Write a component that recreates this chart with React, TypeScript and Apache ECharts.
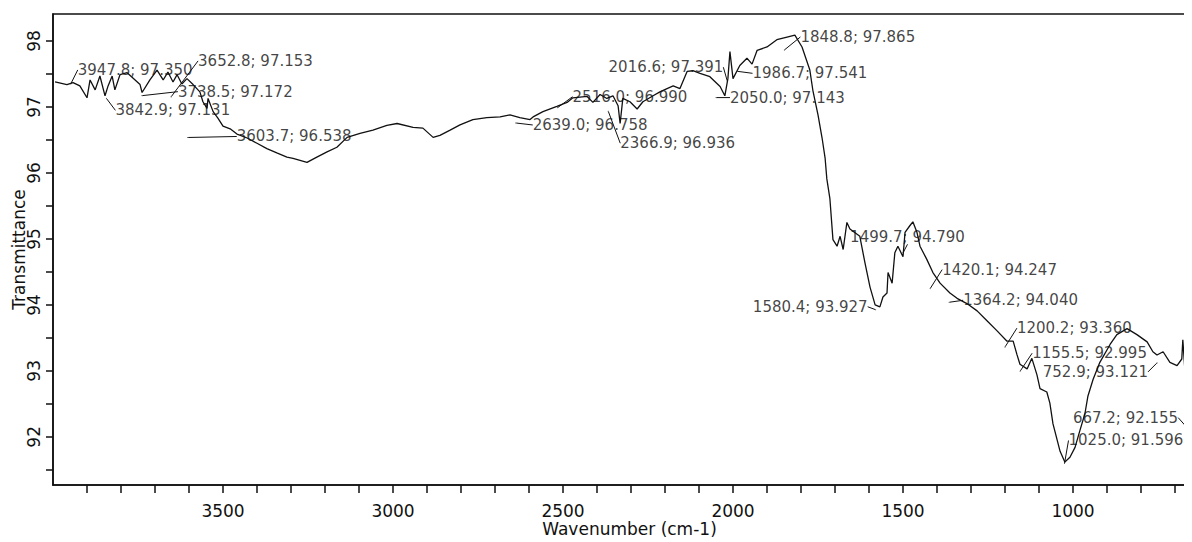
import React, { useEffect, useRef } from "react";
import * as echarts from "echarts";

// ---- Spectrum (wavenumber cm-1, transmittance %) ----
const wavenumbers = [
  3994, 3959, 3941, 3921, 3900, 3891, 3876, 3862, 3847, 3838, 3826, 3818, 3803, 3782, 3765, 3744, 3738, 3715,
  3694, 3676, 3662, 3647, 3635, 3621, 3606, 3588, 3568, 3559, 3547, 3544, 3529, 3515, 3500, 3479, 3459, 3429,
  3400, 3371, 3340, 3312, 3294, 3253, 3224, 3194, 3165, 3135, 3097, 3059, 3018, 2988, 2941, 2912, 2882, 2862,
  2832, 2803, 2765, 2724, 2685, 2656, 2627, 2597, 2588, 2559, 2518, 2488, 2471, 2429, 2412, 2391, 2371, 2353,
  2338, 2332, 2324, 2303, 2282, 2265, 2235, 2215, 2194, 2176, 2156, 2135, 2118, 2097, 2068, 2038, 2024, 2015,
  2009, 2000, 1980, 1959, 1944, 1929, 1900, 1871, 1841, 1818, 1797, 1774, 1765, 1750, 1738, 1729, 1724, 1715,
  1706, 1694, 1685, 1676, 1665, 1656, 1627, 1612, 1597, 1582, 1568, 1559, 1547, 1544, 1532, 1524, 1515, 1500,
  1494, 1480, 1471, 1459, 1450, 1430, 1412, 1391, 1362, 1341, 1312, 1282, 1253, 1224, 1194, 1176, 1165, 1156,
  1135, 1121, 1106, 1097, 1077, 1068, 1059, 1038, 1024, 1009, 994, 980, 965, 956, 941, 921, 891, 871,
  841, 812, 782, 765, 753, 735, 715, 694, 680, 677, 671, 665, 656,
];
const transmittance = [
  97.38, 97.34, 97.37, 97.32, 97.14, 97.41, 97.26, 97.47, 97.17, 97.32, 97.47, 97.26, 97.49, 97.52, 97.44, 97.34, 97.22, 97.41,
  97.56, 97.41, 97.53, 97.38, 97.49, 97.35, 97.43, 97.34, 97.23, 97.08, 96.98, 97.13, 96.93, 96.83, 96.71, 96.67, 96.59, 96.53,
  96.45, 96.37, 96.3, 96.24, 96.22, 96.16, 96.24, 96.32, 96.39, 96.54, 96.6, 96.65, 96.72, 96.75, 96.69, 96.68, 96.54, 96.57,
  96.65, 96.73, 96.81, 96.84, 96.85, 96.88, 96.84, 96.81, 96.85, 96.93, 97.01, 97.07, 97.14, 97.16, 97.07, 97.19, 97.13, 97.17,
  97.02, 96.75, 97.13, 97.08, 96.97, 97.08, 97.17, 97.23, 97.28, 97.32, 97.28, 97.54, 97.55, 97.51, 97.46, 97.31, 97.17, 97.43,
  97.84, 97.43, 97.63, 97.74, 97.65, 97.86, 97.91, 98.02, 98.06, 98.09, 97.91, 97.56, 97.25, 96.88, 96.53, 96.22, 95.91, 95.61,
  94.99, 94.89, 95.04, 94.84, 95.25, 95.15, 95.04, 94.64, 94.27, 94.0, 93.97, 94.12, 94.18, 94.49, 94.33, 94.79, 94.89, 94.73,
  95.1, 95.2, 95.26, 95.1, 94.89, 94.69, 94.49, 94.33, 94.18, 94.1, 94.02, 93.91, 93.76, 93.61, 93.45, 93.45, 93.25, 93.1,
  93.03, 93.19, 92.94, 92.73, 92.68, 92.51, 92.2, 91.78, 91.62, 91.69, 91.84, 92.09, 92.35, 92.62, 92.87, 93.13, 93.4, 93.55,
  93.64, 93.55, 93.44, 93.29, 93.24, 93.29, 93.13, 93.08, 93.18, 93.47, 93.02, 92.25, 93.05,
];

// ---- Peak picks ----
const peakWavenumbers = [
  3947.8, 3842.9, 3652.8, 3738.5, 3603.7, 2639.0, 2516.0, 2366.9, 2016.6, 2050.0, 1986.7,
  1848.8, 1499.7, 1580.4, 1420.1, 1364.2, 1200.2, 1155.5, 752.9, 667.2, 1025.0,
];
const peakTransmittance = [
  97.35, 97.131, 97.153, 97.172, 96.538, 96.758, 96.99, 96.936, 97.391, 97.143, 97.541,
  97.865, 94.79, 93.927, 94.247, 94.04, 93.36, 92.995, 93.121, 92.155, 91.596,
];

// ---- Axis ticks ----
const xTickValues = [
  700, 800, 900, 1000, 1100, 1200, 1300, 1400, 1500, 1600, 1700, 1800, 1900, 2000, 2100, 2200, 2300, 2400,
  2500, 2600, 2700, 2800, 2900, 3000, 3100, 3200, 3300, 3400, 3500, 3600, 3700, 3800, 3900,
];
const xLabelValues = [1000, 1500, 2000, 2500, 3000, 3500];
const yTickValues = [91.5, 92, 92.5, 93, 93.5, 94, 94.5, 95, 95.5, 96, 96.5, 97, 97.5, 98];
const yLabelValues = [92, 93, 94, 95, 96, 97, 98];

// label placement (dx, dy, align) for each peak label
const labelPlacement: [number, number, string][] = [
  [7, -14, "left"], [9, 12, "left"], [27, -36, "left"], [36, -4, "left"], [49, -1, "left"],
  [17, 2, "left"], [15, -11, "left"], [12, 32, "left"], [-4, -14, "right"], [14, 0, "left"],
  [15, 2, "left"], [16, -13, "left"], [-53, -16, "left"], [-8, -3, "right"], [12, -19, "left"],
  [14, -2, "left"], [12, -19, "left"], [12, -18, "left"], [-9, 9, "right"], [-8, -9, "right"],
  [4, -23, "left"],
];

const FONT = "DejaVu Sans";
const INK = "#111111";

export default function App() {
  const ref = useRef<HTMLDivElement>(null);
  useEffect(() => {
    if (!ref.current) return;
    const chart = echarts.init(ref.current, undefined, { renderer: "svg" });
    const spectrum = wavenumbers.map((w, i) => [w, transmittance[i]]);
    const peaks = peakWavenumbers.map((w, i) => ({
      value: [w, peakTransmittance[i]],
      name: `${w.toFixed(1)}; ${peakTransmittance[i].toFixed(3)}`,
    }));
    chart.setOption({
      animation: false,
      backgroundColor: "#ffffff",
      grid: {
        left: 53,
        right: 0,
        top: 14,
        bottom: 57,
        show: true,
        borderColor: INK,
        borderWidth: 1.5,
        outerBoundsMode: "none",
        containLabel: false,
      },
      xAxis: {
        type: "value",
        min: 650,
        max: 4000,
        inverse: true,
        axisLine: { show: true, lineStyle: { color: INK, width: 1.6 } },
        axisTick: {
          show: true,
          length: 8,
          lineStyle: { color: INK, width: 1.5 },
          customValues: xTickValues,
        },
        axisLabel: {
          customValues: xLabelValues,
          formatter: (v: number) => String(v),
          margin: 17,
          color: INK,
          fontSize: 17,
          fontFamily: FONT,
        },
        splitLine: { show: false },
        name: "Wavenumber (cm-1)",
        nameLocation: "middle",
        nameGap: 35,
        nameMoveOverlap: false,
        nameTextStyle: { color: INK, fontSize: 17, fontFamily: FONT, padding: [0, 0, 0, 14] },
      },
      yAxis: {
        type: "value",
        min: 91.27,
        max: 98.41,
        axisLine: { show: true, lineStyle: { color: INK, width: 1.6 } },
        axisTick: {
          show: true,
          length: 7,
          lineStyle: { color: INK, width: 1.5 },
          customValues: yTickValues,
        },
        axisLabel: {
          customValues: yLabelValues,
          formatter: (v: number) => String(v),
          rotate: 90,
          margin: 11,
          color: INK,
          fontSize: 17,
          fontFamily: FONT,
        },
        splitLine: { show: false },
        name: "Transmittance",
        nameLocation: "middle",
        nameRotate: 90,
        nameGap: 26,
        nameMoveOverlap: false,
        nameTextStyle: { color: INK, fontSize: 17, fontFamily: FONT, padding: [0, 0, 0, 0] },
      },
      series: [
        {
          type: "line",
          data: spectrum,
          showSymbol: false,
          symbol: "none",
          lineStyle: { color: INK, width: 1.3 },
          silent: true,
        },
        {
          type: "scatter",
          data: peaks,
          symbolSize: 1,
          itemStyle: { color: INK },
          label: {
            show: true,
            position: "inside",
            formatter: (p: any) => p.name,
            color: INK,
            textBorderWidth: 0,
            fontSize: 15,
            fontFamily: FONT,
            verticalAlign: "middle",
          },
          labelLayout: (p: any) => {
            const o = labelPlacement[p.dataIndex];
            return { dx: o[0], dy: o[1], align: o[2] };
          },
          labelLine: { show: true, lineStyle: { color: INK, width: 1 } },
        },
      ],
    });
    return () => chart.dispose();
  }, []);
  return <div ref={ref} style={{ width: 1192, height: 542, marginLeft: -8, marginTop: -8 }} />;
}
